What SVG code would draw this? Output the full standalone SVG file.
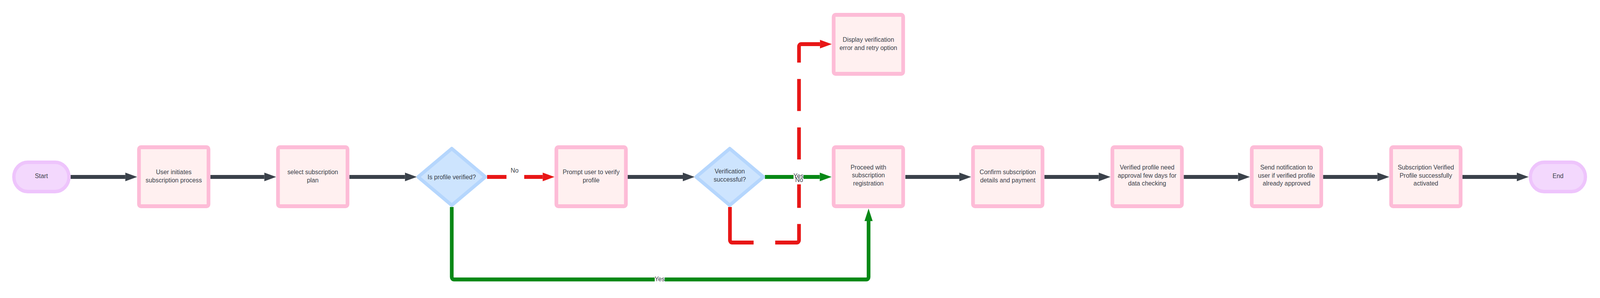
<svg xmlns="http://www.w3.org/2000/svg" width="4328" height="763" viewBox="0 0 4328 763" preserveAspectRatio="none">
<style>
svg:root{width:100vw;height:100vh}
.t{font-family:"Liberation Sans",Arial,Helvetica,sans-serif;font-size:16.7px;fill:#3a414a;text-anchor:middle}
.box{fill:#fff0f0;stroke:#fdbcd7;stroke-width:10}
.pill{fill:#f3d8fd;stroke:#eec4fc;stroke-width:9}
.dia{fill:#cde4fe;stroke:#b5d6fd;stroke-width:9;stroke-linejoin:round}
.c{fill:none;stroke-width:10;stroke-linecap:butt}
.dark{stroke:#3a414a}
.red{stroke:#e81616}
.green{stroke:#078815}
.bg{fill:#ffffff}
</style>
<defs>
<marker id="ad" markerUnits="userSpaceOnUse" markerWidth="32" markerHeight="22" refX="0" refY="11" orient="auto" overflow="visible"><path d="M0,0 L32,11 L0,22 Z" fill="#3a414a"/></marker>
<marker id="ar" markerUnits="userSpaceOnUse" markerWidth="32" markerHeight="22" refX="0" refY="11" orient="auto" overflow="visible"><path d="M0,0 L32,11 L0,22 Z" fill="#e81616"/></marker>
<marker id="ag" markerUnits="userSpaceOnUse" markerWidth="32" markerHeight="22" refX="0" refY="11" orient="auto" overflow="visible"><path d="M0,0 L32,11 L0,22 Z" fill="#078815"/></marker>
</defs>
<rect width="4328" height="763" fill="#ffffff"/>
<g id="connectors">
<path class="c dark" d="M191 453 H339" marker-end="url(#ad)"/>
<path class="c dark" d="M569 453 H715" marker-end="url(#ad)"/>
<path class="c dark" d="M945 453 H1095.5" marker-end="url(#ad)"/>
<path class="c red" d="M1317.5 453 H1468" marker-end="url(#ar)"/>
<path class="c green" d="M1222 530 V709.5 A6 6 0 0 0 1228 715.5 H2343.5 A6 6 0 0 0 2349.5 709.5 V566" marker-end="url(#ag)"/>
<path class="c dark" d="M1696 453 H1847" marker-end="url(#ad)"/>
<path class="c green" d="M2069 453 H2217.5" marker-end="url(#ag)"/>
<path class="c red" d="M1974.5 530 V615 A6 6 0 0 0 1980.5 621 H2155.3 A6 6 0 0 0 2161.3 615 V119 A6 6 0 0 1 2167.3 113 H2218" stroke-dasharray="152.2 58.4 109.1 41.3 82 42 82 42 82 42 300" marker-end="url(#ar)"/>
<path class="c dark" d="M2449 453 H2595" marker-end="url(#ad)"/>
<path class="c dark" d="M2825 453 H2972" marker-end="url(#ad)"/>
<path class="c dark" d="M3202 453 H3349" marker-end="url(#ad)"/>
<path class="c dark" d="M3579 453 H3726" marker-end="url(#ad)"/>
<path class="c dark" d="M3956 453 H4103" marker-end="url(#ad)"/>
<g id="labels">
<rect class="bg" x="1370" y="428" width="48" height="30"/>
<rect class="bg" x="1771" y="704" width="27" height="18"/>
<rect class="bg" x="2146.5" y="441" width="27" height="19"/>
<rect class="bg" x="2151.5" y="452" width="20.5" height="20"/>
<text class="t" x="1392" y="442">No</text>
<text class="t" x="1784.5" y="720">Yes</text>
<text class="t" x="2160" y="456">Yes</text>
<text class="t" x="2161.7" y="466">No</text>
</g>
</g>
<g id="start"><rect class="pill" x="37.5" y="415.5" width="149" height="75" rx="37.5"/><text class="t" x="112" y="456">Start</text></g>
<g id="user-initiates"><rect class="box" x="376" y="377" width="188" height="151" rx="5"/><text class="t" x="470" y="446.5">User initiates</text><text class="t" x="470" y="466.8">subscription process</text></g>
<g id="select-plan"><rect class="box" x="752" y="377" width="188" height="151" rx="5"/><text class="t" x="846" y="446.5">select subscription</text><text class="t" x="846" y="466.8">plan</text></g>
<g id="is-verified"><path class="dia" d="M1222 380.5 L1313 453 L1222 525.5 L1131 453 Z"/><text class="t" x="1222" y="459">Is profile verified?</text></g>
<g id="prompt-verify"><rect class="box" x="1505" y="377" width="188" height="151" rx="5"/><text class="t" x="1599" y="446.5">Prompt user to verify</text><text class="t" x="1599" y="466.8">profile</text></g>
<g id="verification-successful"><path class="dia" d="M1974 380.5 L2065 453 L1974 525.5 L1883 453 Z"/><text class="t" x="1974" y="444.5">Verification</text><text class="t" x="1974" y="465.5">successful?</text></g>
<g id="display-error"><rect class="box" x="2255" y="38" width="188" height="151" rx="5"/><text class="t" x="2349" y="107.5">Display verification</text><text class="t" x="2349" y="127.8">error and retry option</text></g>
<g id="proceed-registration"><rect class="box" x="2255" y="377" width="188" height="151" rx="5"/><text class="t" x="2349" y="434">Proceed with</text><text class="t" x="2349" y="454.3">subscription</text><text class="t" x="2349" y="474.6">registration</text></g>
<g id="confirm-details"><rect class="box" x="2632" y="377" width="188" height="151" rx="5"/><text class="t" x="2726" y="446.5">Confirm subscription</text><text class="t" x="2726" y="466.8">details and payment</text></g>
<g id="approval-wait"><rect class="box" x="3009" y="377" width="188" height="151" rx="5"/><text class="t" x="3103" y="434.5">Verified profile need</text><text class="t" x="3103" y="454.8">approval few days for</text><text class="t" x="3103" y="475.1">data checking</text></g>
<g id="send-notification"><rect class="box" x="3386" y="377" width="188" height="151" rx="5"/><text class="t" x="3480" y="434.5">Send notification to</text><text class="t" x="3480" y="454.8">user if verified profile</text><text class="t" x="3480" y="475.1">already approved</text></g>
<g id="activated"><rect class="box" x="3763" y="377" width="188" height="151" rx="5"/><text class="t" x="3857" y="434.5">Subscription Verified</text><text class="t" x="3857" y="454.8">Profile successfully</text><text class="t" x="3857" y="475.1">activated</text></g>
<g id="end"><rect class="pill" x="4139.5" y="415.5" width="149" height="75" rx="37.5"/><text class="t" x="4214.5" y="456">End</text></g>
</svg>
